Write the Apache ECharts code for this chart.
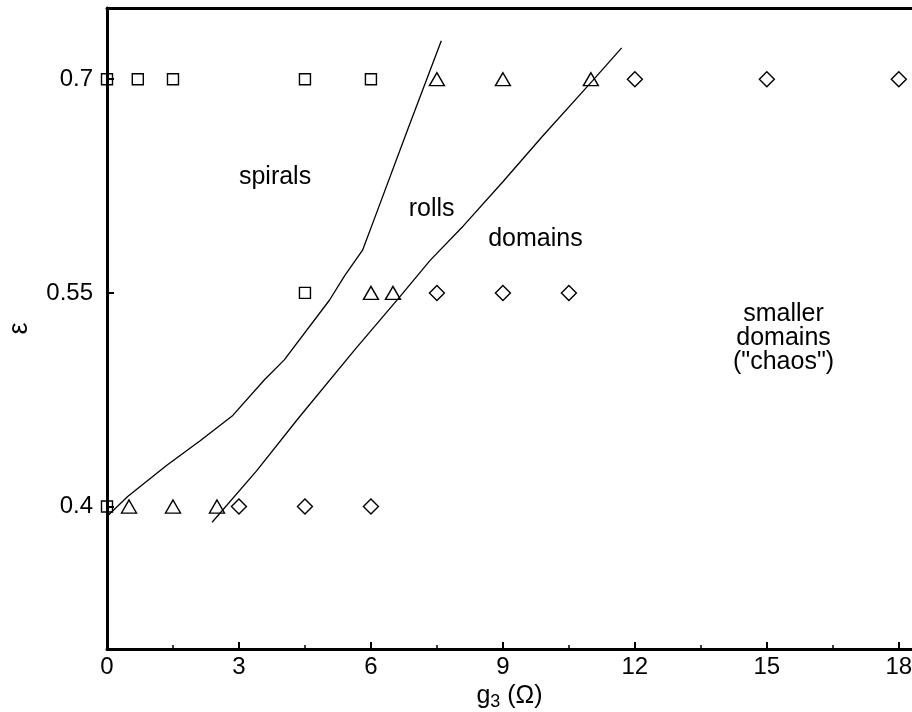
<!DOCTYPE html>
<html>
<head>
<meta charset="utf-8">
<script src="https://cdn.jsdelivr.net/npm/echarts@6/dist/echarts.min.js"></script>
<style>
  html, body { margin: 0; padding: 0; background: #fff; }
  #chart { width: 912px; height: 712px; }
</style>
</head>
<body>
<div id="chart"></div>
<script>
// Pattern observations in the (g3, epsilon) plane
const squares   = [[0, 0.7], [0.7, 0.7], [1.5, 0.7], [4.5, 0.7], [6, 0.7], [4.5, 0.55], [0, 0.4]];
const triangles = [[7.5, 0.7], [9, 0.7], [11, 0.7], [6, 0.55], [6.5, 0.55], [0.5, 0.4], [1.5, 0.4], [2.5, 0.4]];
const diamonds  = [[12, 0.7], [15, 0.7], [18, 0.7], [7.5, 0.55], [9, 0.55], [10.5, 0.55], [3, 0.4], [4.5, 0.4], [6, 0.4]];

// Boundary between spirals and rolls
const spiralRollBoundary = [[0, 0.393], [0.47, 0.407], [1.36, 0.429], [2.11, 0.446], [2.86, 0.464], [3.58, 0.489],
  [4.03, 0.503], [5.06, 0.545], [5.4, 0.562], [5.81, 0.58], [6.09, 0.603], [6.84, 0.665], [7.6, 0.727]];
// Boundary between rolls and domains
const rollDomainBoundary = [[2.39, 0.389], [3.4, 0.425], [4.35, 0.462], [5.63, 0.51], [6.65, 0.547], [7.35, 0.573],
  [8.1, 0.597], [9.0, 0.628], [9.9, 0.66], [11.04, 0.699], [11.7, 0.722]];

// Region names
const regionLabels = [
  { name: 'spirals', value: [3.82, 0.631] },
  { name: 'rolls', value: [7.38, 0.609] },
  { name: 'domains', value: [9.74, 0.588] },
  { name: 'smaller\ndomains\n("chaos")', value: [15.38, 0.518] }
];

const xTicks = [0, 3, 6, 9, 12, 15, 18];
const xMinorTicks = [1.5, 4.5, 7.5, 10.5, 13.5, 16.5];
const yTicks = [0.4, 0.55, 0.7];

const FONT = "'Liberation Sans', Arial, Helvetica, sans-serif";
const X_MIN = 0, X_MAX = 18.3, Y_MIN = 0.3, Y_MAX = 0.75;

const chart = echarts.init(document.getElementById('chart'), null, { renderer: 'canvas' });

const markerStyle = { color: 'transparent', borderColor: '#000', borderWidth: 1.4, opacity: 1 };

chart.setOption({
  animation: false,
  backgroundColor: '#fff',
  textStyle: { fontFamily: FONT, color: '#000' },
  grid: { left: 107, right: 0, top: 8, bottom: 63, containLabel: false, outerBoundsMode: 'none' },
  xAxis: [
    {
      type: 'value', min: X_MIN, max: X_MAX, position: 'bottom',
      name: '{a|g}{s|3}{a| (Ω)}',
      nameLocation: 'middle', nameGap: 32,
      nameTextStyle: {
        rich: {
          a: { fontSize: 25, fontFamily: FONT, color: '#000', lineHeight: 30 },
          s: { fontSize: 18, fontFamily: FONT, color: '#000', lineHeight: 15, verticalAlign: 'bottom' }
        }
      },
      axisLine: { show: true, onZero: false, lineStyle: { color: '#000', width: 3 } },
      axisTick: { show: true, inside: true, length: 7, customValues: xTicks, lineStyle: { color: '#000', width: 2 } },
      axisLabel: { show: true, customValues: xTicks, fontSize: 24, color: '#000', fontFamily: FONT, margin: 6,
        hideOverlap: false },
      splitLine: { show: false }
    },
    {
      // minor ticks between labelled values
      type: 'value', min: X_MIN, max: X_MAX, position: 'bottom',
      axisLine: { show: false },
      axisTick: { show: true, inside: true, length: 4, customValues: xMinorTicks, lineStyle: { color: '#000', width: 1.5 } },
      axisLabel: { show: false },
      splitLine: { show: false }
    },
    {
      // frame along the top
      type: 'value', min: X_MIN, max: X_MAX, position: 'top',
      axisLine: { show: true, onZero: false, lineStyle: { color: '#000', width: 3 } },
      axisTick: { show: false }, axisLabel: { show: false }, splitLine: { show: false }
    }
  ],
  yAxis: {
    type: 'value', min: Y_MIN, max: Y_MAX,
    name: 'ε', nameLocation: 'middle', nameGap: 74, nameRotate: 90,
    nameTextStyle: { fontSize: 27, color: '#000', fontFamily: FONT },
    axisLine: { show: true, onZero: false, lineStyle: { color: '#000', width: 3 } },
    axisTick: { show: true, inside: true, length: 7, customValues: yTicks, lineStyle: { color: '#000', width: 2 } },
    axisLabel: { show: true, customValues: yTicks, fontSize: 24, color: '#000', fontFamily: FONT, margin: 14,
      formatter: v => String(Math.round(v * 100) / 100) },
    splitLine: { show: false }
  },
  series: [
    {
      name: 'spiral-roll boundary', type: 'line', data: spiralRollBoundary,
      showSymbol: false, symbol: 'none', clip: false, smooth: false,
      lineStyle: { color: '#000', width: 1.3 }, z: 2
    },
    {
      name: 'roll-domain boundary', type: 'line', data: rollDomainBoundary,
      showSymbol: false, symbol: 'none', clip: false, smooth: false,
      lineStyle: { color: '#000', width: 1.3 }, z: 2
    },
    {
      name: 'spirals', type: 'scatter', data: squares, symbol: 'rect', symbolSize: 11,
      itemStyle: markerStyle, clip: false, z: 3
    },
    {
      name: 'rolls', type: 'scatter', data: triangles, symbol: 'triangle', symbolSize: [15, 13],
      itemStyle: markerStyle, clip: false, z: 3
    },
    {
      name: 'domains', type: 'scatter', data: diamonds, symbol: 'diamond', symbolSize: [15, 15],
      itemStyle: markerStyle, clip: false, z: 3
    },
    {
      name: 'regions', type: 'scatter', data: regionLabels, symbolSize: 0, clip: false, z: 4,
      itemStyle: { opacity: 1 },
      label: {
        show: true, position: 'inside', formatter: '{b}',
        fontSize: 25, lineHeight: 24, color: '#000', textBorderWidth: 0, fontFamily: FONT,
        align: 'center', verticalAlign: 'middle'
      }
    }
  ]
});
</script>
</body>
</html>
